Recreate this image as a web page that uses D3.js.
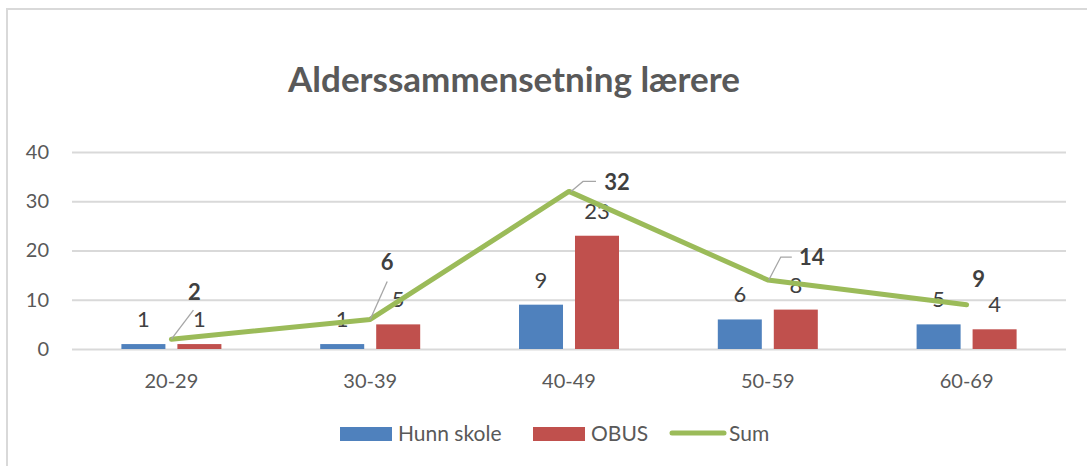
<!DOCTYPE html>
<html>
<head>
<meta charset="utf-8">
<script src="https://cdn.jsdelivr.net/npm/d3@7"></script>
<style>
  body { margin: 0; background: #fff; }
  svg { display: block; font-family: Lato, "Open Sans", sans-serif; }
</style>
</head>
<body>
<div class="chart"></div>
<script>
// data
const categories = ['20-29', '30-39', '40-49', '50-59', '60-69']
const hunnSkole = [1, 1, 9, 6, 5]
const obus = [1, 5, 23, 8, 4]
const sum = [2, 6, 32, 14, 9]
const yTicks = [0, 10, 20, 30, 40]
const seriesNames = ['Hunn skole', 'OBUS', 'Sum']

// label placement for the Sum labels (offset from the point) and leader lines
const sumLabelOffset = [[23, -47], [17, -57], [48, -9], [44, -23], [12, -25]]
const sumLeaders = [
    [[0, 0], [22, -29]],
    [[0, 0], [17, -38]],
    [[2, 0], [14, -10], [27, -10]],
    [[1, 0], [13, -23], [24, -23]],
    null
]

const colors = { blue: '#4F81BD', red: '#C0504D', green: '#9BBB59' }

const width = 1087
const height = 466
const margin = { top: 152, bottom: 117, left: 72, right: 21 }

const svg = d3.select('.chart').append('svg')
    .attr('width', width).attr('height', height)

// chart frame (only top and left edges visible)
svg.append('path')
    .attr('d', `M7,${height} V9 H${width}`)
    .attr('fill', 'none')
    .attr('stroke', '#d9d9d9')
    .attr('stroke-width', 2)

// title
svg.append('text')
    .attr('x', 514).attr('y', 92)
    .attr('text-anchor', 'middle')
    .style('font-size', '35px')
    .style('font-weight', 'bold')
    .style('fill', '#595959')
    .text('Alderssammensetning lærere')

const x = d3.scaleBand().domain(categories)
    .range([margin.left, width - margin.right])

const xSub = d3.scaleBand().domain(['a', 'b'])
    .range([-50, 50]).paddingInner(0.214)

const y = d3.scaleLinear().domain([0, 40])
    .range([height - margin.bottom, margin.top])

// grid + y labels
const yAxis = d3.axisLeft(y).tickValues(yTicks)
    .tickSize(-(width - margin.left - margin.right))
    .tickPadding(23)

const yAxisDraw = svg.append('g')
    .attr('transform', `translate(${margin.left},0)`)
    .call(yAxis)
yAxisDraw.select('.domain').remove()
yAxisDraw.selectAll('.tick line').attr('stroke', '#d9d9d9').attr('stroke-width', 2)
yAxisDraw.selectAll('.tick text')
    .style('font-size', '20px').style('fill', '#595959')
    .style('font-family', 'Lato, sans-serif')

// x labels
const xAxis = d3.axisBottom(x).tickSize(0).tickPadding(25)
const xAxisDraw = svg.append('g')
    .attr('transform', `translate(0,${y(0)})`)
    .call(xAxis)
xAxisDraw.select('.domain').remove()
xAxisDraw.selectAll('.tick text')
    .style('font-size', '20px').style('fill', '#595959')
    .style('font-family', 'Lato, sans-serif')

// bars
const barSeries = [
    { key: 'a', values: hunnSkole, color: colors.blue },
    { key: 'b', values: obus, color: colors.red }
]

barSeries.forEach(s => {
    const g = svg.append('g')
    g.selectAll('rect').data(s.values).join('rect')
        .attr('x', (d, i) => x(categories[i]) + x.bandwidth() / 2 + xSub(s.key))
        .attr('y', d => y(d))
        .attr('width', xSub.bandwidth())
        .attr('height', d => y(0) - y(d))
        .attr('fill', s.color)

    g.selectAll('text').data(s.values).join('text')
        .attr('x', (d, i) => x(categories[i]) + x.bandwidth() / 2 + xSub(s.key) + xSub.bandwidth() / 2)
        .attr('y', d => y(d) - 17)
        .attr('text-anchor', 'middle')
        .style('font-size', '22px')
        .style('fill', '#404040')
        .text(d => d)
})

// sum line
const cx = i => x(categories[i]) + x.bandwidth() / 2
const line = d3.line().x((d, i) => cx(i)).y(d => y(d))

svg.append('path')
    .datum(sum)
    .attr('d', line)
    .attr('fill', 'none')
    .attr('stroke', colors.green)
    .attr('stroke-width', 5)
    .attr('stroke-linejoin', 'round')
    .attr('stroke-linecap', 'round')

// leader lines
sum.forEach((d, i) => {
    if (!sumLeaders[i]) return
    svg.append('polyline')
        .attr('points', sumLeaders[i].map(p => [cx(i) + p[0], y(d) + p[1]].join(',')).join(' '))
        .attr('fill', 'none')
        .attr('stroke', '#a6a6a6')
        .attr('stroke-width', 1.3)
})

svg.append('g').selectAll('text').data(sum).join('text')
    .attr('x', (d, i) => cx(i) + sumLabelOffset[i][0])
    .attr('y', (d, i) => y(d) + sumLabelOffset[i][1])
    .attr('dy', '0.35em')
    .attr('text-anchor', 'middle')
    .style('font-size', '22px')
    .style('font-weight', 'bold')
    .style('fill', '#404040')
    .text(d => d)

// legend
const legend = svg.append('g').attr('class', 'legend')
const legendX = [340, 533, 670]
seriesNames.forEach((name, i) => {
    const lx = legendX[i]
    if (i < 2) {
        legend.append('rect')
            .attr('x', lx).attr('y', 427)
            .attr('width', 52).attr('height', 14)
            .attr('fill', i === 0 ? colors.blue : colors.red)
    } else {
        legend.append('line')
            .attr('x1', lx + 2).attr('x2', lx + 54)
            .attr('y1', 433).attr('y2', 433)
            .attr('stroke', colors.green)
            .attr('stroke-width', 5)
            .attr('stroke-linecap', 'round')
    }
    legend.append('text')
        .attr('x', i < 2 ? lx + 58 : lx + 59)
        .attr('y', 441)
        .style('font-size', '21px')
        .style('fill', '#595959')
        .text(name)
})
</script>
</body>
</html>
